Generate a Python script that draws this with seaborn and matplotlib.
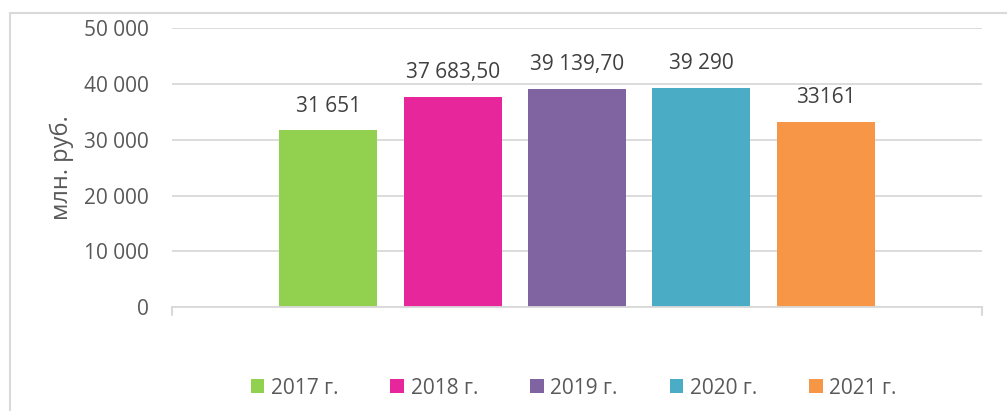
import matplotlib
matplotlib.use("Agg")
import matplotlib.pyplot as plt
import seaborn as sns
import pandas as pd
from matplotlib.lines import Line2D
from matplotlib.patches import Patch

# данные
years = ["2017 г.", "2018 г.", "2019 г.", "2020 г.", "2021 г."]
values = [31651, 37683.50, 39139.70, 39290, 33161]
value_labels = ["31 651", "37 683,50", "39 139,70", "39 290", "33161"]
colors = ["#92D050", "#E7269C", "#8064A2", "#4BACC6", "#F79646"]
y_ticks = [0, 10000, 20000, 30000, 40000, 50000]
y_tick_labels = ["0", "10 000", "20 000", "30 000", "40 000", "50 000"]

df = pd.DataFrame({"year": years, "value": values})

sns.set_style("white")
plt.rcParams["font.family"] = ["Open Sans", "DejaVu Sans"]

W, H = 1007, 411
fig = plt.figure(figsize=(W / 100, H / 100), dpi=100)
ax = fig.add_axes([172 / W, (H - 307.3) / H, 810 / W, (307.3 - 28) / H])

sns.barplot(data=df, x="year", y="value", hue="year", palette=colors,
            width=0.788, saturation=1, legend=False, linewidth=0,
            edgecolor="none", ax=ax)

ax.set_xlim(-1.256, 5.256)
ax.set_ylim(0, 50000)
ax.set_yticks(y_ticks)
ax.set_yticklabels(y_tick_labels)
ax.set_xticks([])
ax.set_xlabel("")
ax.set_ylabel("")
ax.grid(axis="y", color="#D9D9D9", linewidth=1.3)
ax.set_axisbelow(True)
for s in ["top", "right", "left"]:
    ax.spines[s].set_visible(False)
ax.spines["bottom"].set_color("#D9D9D9")
ax.spines["bottom"].set_linewidth(1.3)
ax.tick_params(axis="y", length=0, pad=17, labelsize=15, labelcolor="#595959")

# засечки по краям оси категорий
for xe in [0, 1]:
    ax.add_line(Line2D([xe, xe], [0, -0.027], transform=ax.transAxes, clip_on=False,
                       color="#D9D9D9", lw=1.5))

for i, (v, lbl) in enumerate(zip(values, value_labels)):
    ax.annotate(lbl, xy=(i, v), xytext=(0, 17.6), textcoords="offset points",
                ha="center", va="center", fontsize=15, color="#404040")

fig.text(62 / W, (H - 167.5) / H, "млн. руб.", rotation=90, ha="center", va="center",
         fontsize=17, color="#595959")

handles = [Patch(facecolor=c, edgecolor="none") for c in colors]
fig.legend(handles, years, loc="center", bbox_to_anchor=(573.7 / W, (H - 388) / H),
           ncol=5, frameon=False, handlelength=0.65, handleheight=0.65,
           handletextpad=0.32, columnspacing=2.5, fontsize=15, labelcolor="#595959")

# рамка
fig.add_artist(Line2D([10 / W, 10 / W], [0, (H - 13) / H], color="#D9D9D9", lw=1.5))
fig.add_artist(Line2D([10 / W, 1], [(H - 13) / H, (H - 13) / H], color="#D9D9D9", lw=1.5))

fig.savefig("out.png", dpi=100)
